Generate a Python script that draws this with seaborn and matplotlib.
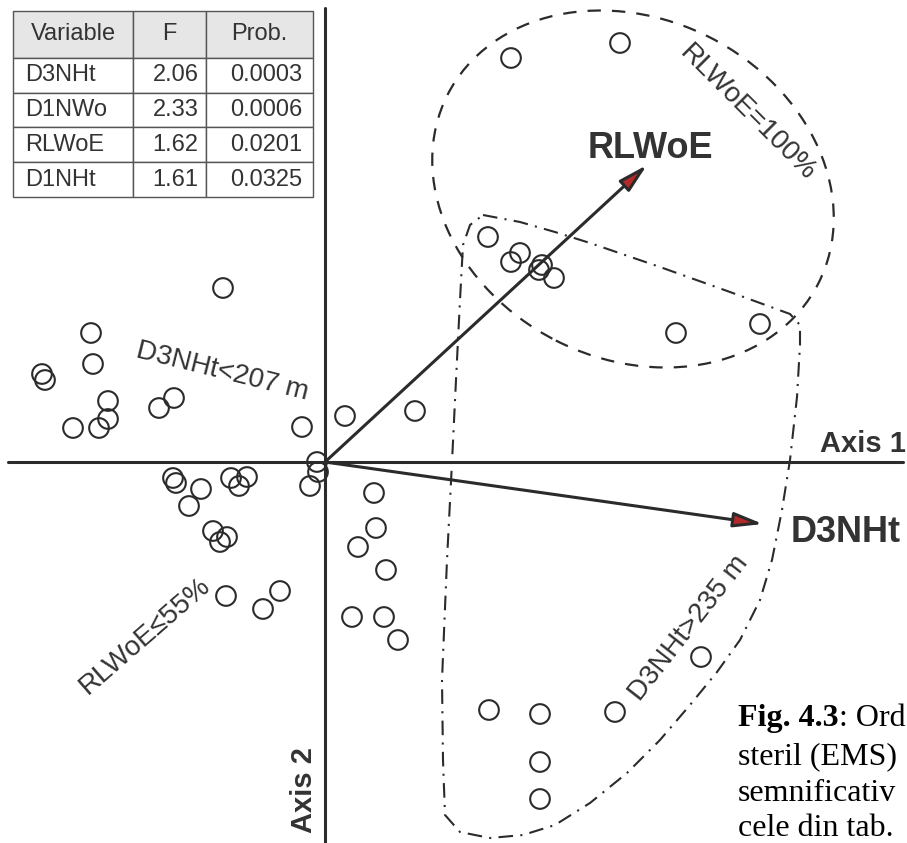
import numpy as np
import pandas as pd
import seaborn as sns
import matplotlib.pyplot as plt
from matplotlib.patches import Ellipse, Polygon

# site scores on the two ordination axes
axis1 = [1.86, 2.95, 1.63, 1.95, 1.86, 2.17, 2.14, 2.29, 3.51, 4.35,
         -1.02, -2.34, -2.32, -2.83, -2.80, -2.17, -2.17, -2.52, -2.26, -1.66,
         -1.51, -0.23, -0.08, -0.07, -0.15, -1.52, -1.49, -1.24, -1.36, -0.94,
         -0.78, -0.86, -1.12, -0.98, -1.05, 0.20, 0.90, 0.49, 0.51, 0.33,
         0.61, 0.27, 0.59, 0.73, -0.99, -0.62, -0.45, 1.64, 2.15, 2.90,
         3.76, 2.15, 2.15]
axis2 = [4.04, 4.19, 2.25, 2.09, 2.00, 1.97, 1.92, 1.84, 1.29, 1.38,
         1.74, 1.29, 0.98, 0.88, 0.82, 0.61, 0.43, 0.34, 0.34, 0.54,
         0.64, 0.35, 0.00, -0.10, -0.24, -0.16, -0.21, -0.27, -0.44, -0.16,
         -0.15, -0.24, -0.69, -0.75, -0.80, 0.46, 0.51, -0.31, -0.66, -0.85,
         -1.08, -1.55, -1.55, -1.78, -1.34, -1.47, -1.29, -2.48, -2.52, -2.50,
         -1.95, -3.00, -3.37]

# environmental vectors
var_names = ["RLWoE", "D3NHt"]
var_x = [3.22, 4.38]
var_y = [2.97, -0.62]

# forward selection table
tab_vars = ["D3NHt", "D1NWo", "RLWoE", "D1NHt"]
tab_F = ["2.06", "2.33", "1.62", "1.61"]
tab_prob = ["0.0003", "0.0006", "0.0201", "0.0325"]

# outline of the D3NHt>235 m group
hull_x = [1.58, 1.95, 2.30, 2.65, 3.35, 4.05, 4.65, 4.75, 4.75, 4.72, 4.65,
          4.57, 4.47, 4.35, 4.15, 3.92, 3.65, 3.35, 3.02, 2.65, 2.30, 1.98,
          1.65, 1.35, 1.20, 1.18, 1.17, 1.22, 1.27, 1.31, 1.35, 1.38, 1.45]
hull_y = [2.47, 2.40, 2.30, 2.19, 1.95, 1.70, 1.48, 1.37, 1.17, 0.65, 0.02,
          -0.48, -0.98, -1.38, -1.78, -2.10, -2.43, -2.78, -3.11, -3.41, -3.63, -3.73,
          -3.76, -3.70, -3.53, -2.98, -2.18, -0.98, 0.00, 0.82, 1.62, 2.17, 2.37]

ink = "#2b2b2b"
txt = "#333333"

sns.set_style("white")
plt.rcParams["font.family"] = ["Liberation Sans", "DejaVu Sans"]

fig = plt.figure(figsize=(9.07, 8.43), dpi=100)
ax = fig.add_axes([0, 0, 1, 1])

# axes through the origin
ax.plot([-3.17, 5.78], [0, 0], color=ink, lw=2.2, zorder=2)
ax.plot([0, 0], [-3.81, 4.54], color=ink, lw=2.2, zorder=2)

sites = pd.DataFrame({"Axis 1": axis1, "Axis 2": axis2})
sns.scatterplot(data=sites, x="Axis 1", y="Axis 2", ax=ax, marker="o", s=200,
                facecolor="none", edgecolor=ink, linewidth=1.5, zorder=4)
ax.set_xlim(-3.25, 5.82)
ax.set_ylim(-3.81, 4.62)
ax.axis("off")

for vx, vy in zip(var_x, var_y):
    ax.annotate("", xy=(vx, vy), xytext=(0, 0),
                arrowprops=dict(arrowstyle="-|>,head_length=1.1,head_width=0.28",
                                lw=2.2, ec=ink, fc="#b22a2a", mutation_scale=16,
                                shrinkA=0, shrinkB=0), zorder=5)

ax.text(3.25, 3.04, var_names[0], fontsize=26, fontweight="bold", color=txt,
        ha="center", va="baseline")
ax.text(4.66, -0.80, var_names[1], fontsize=26, fontweight="bold", color=txt,
        ha="left", va="baseline")
ax.text(4.95, 0.10, "Axis 1", fontsize=21, fontweight="bold", color=txt,
        ha="left", va="baseline")
ax.text(-0.21, -3.28, "Axis 2", fontsize=21, fontweight="bold", color=txt,
        ha="center", va="center", rotation=90)

# RLWoE=100% group
ax.add_patch(Ellipse((3.08, 2.73), 4.16, 3.40, angle=-27, fill=False, ec=ink,
                     lw=1.6, ls=(0, (6, 5)), zorder=3))
# D3NHt>235 m group
ax.add_patch(Polygon(np.column_stack([hull_x, hull_y]), closed=True, fill=False,
                     ec=ink, lw=1.5, ls=(0, (7, 3.5, 1, 3.5)), zorder=3))

ax.text(4.23, 3.49, "RLWoE=100%", fontsize=20, color=txt, rotation=-45,
        ha="center", va="center", rotation_mode="anchor")
ax.text(-1.03, 0.90, "D3NHt<207 m", fontsize=20, color=txt, rotation=-14,
        ha="center", va="center", rotation_mode="anchor")
ax.text(-1.80, -1.74, "RLWoE≤55%", fontsize=20, color=txt, rotation=41,
        ha="center", va="center", rotation_mode="anchor")
ax.text(3.64, -1.66, "D3NHt>235 m", fontsize=20, color=txt, rotation=52,
        ha="center", va="center", rotation_mode="anchor")

# table of selected variables
tbl = ax.table(cellText=[list(r) for r in zip(tab_vars, tab_F, tab_prob)],
               colLabels=["Variable", "F", "Prob."], colWidths=[120, 73, 107],
               cellLoc="right", bbox=[13 / 907, 1 - 197 / 843, 300 / 907, 186 / 843])
tbl.auto_set_font_size(False)
tbl.set_fontsize(17)
for (r, c), cell in tbl.get_celld().items():
    cell.set_edgecolor("#555555")
    cell.set_linewidth(1.0)
    cell.get_text().set_color(txt)
    if r == 0:
        cell.set_height(47)
        cell.set_facecolor("#e6e6e6")
        cell.get_text().set_ha("center")
    else:
        cell.set_height(35)
        if c == 0:
            cell.get_text().set_ha("left")
            cell._loc = "left"

# caption fragment at lower right
cap = dict(fontsize=23, family="Liberation Serif", color="black", va="baseline")
t1 = ax.text(4.13, -2.64, "Fig. 4.3", fontweight="bold", **cap)
ax.annotate(": Ord", xy=(1, 0), xycoords=t1, ha="left", va="bottom",
            fontsize=23, family="Liberation Serif", color="black")
ax.text(4.13, -3.02, "steril (EMS)", **cap)
ax.text(4.13, -3.39, "semnificativ", **cap)
ax.text(4.13, -3.74, "cele din tab.", **cap)

fig.savefig("out.png", dpi=100)
